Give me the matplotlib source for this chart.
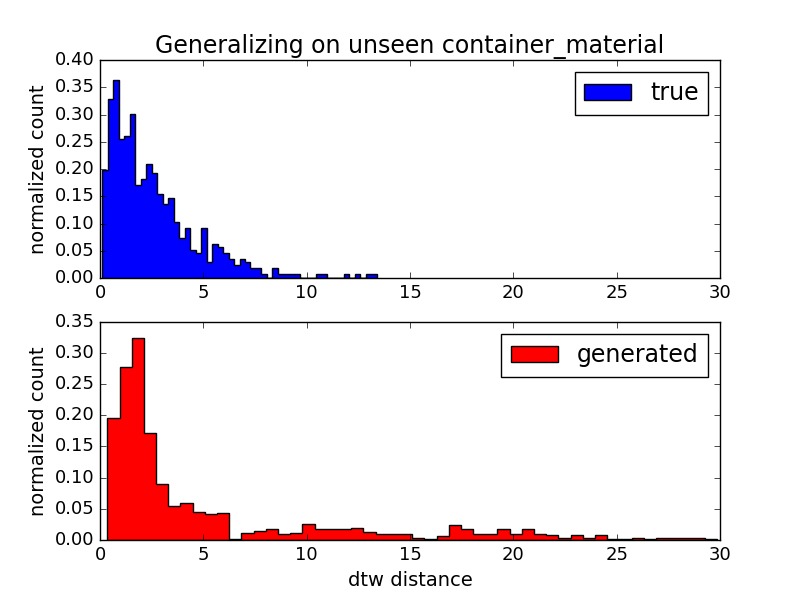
import matplotlib
matplotlib.use('Agg')
import matplotlib.pyplot as plt
import numpy as np

plt.style.use('classic')

# bin range and normalized counts (50 bins each)
true_range = (0.11, 13.39)
true_density = [0.199, 0.329, 0.364, 0.255, 0.261, 0.301, 0.170, 0.182, 0.210, 0.193,
                0.154, 0.136, 0.147, 0.103, 0.074, 0.092, 0.052, 0.047, 0.092, 0.029,
                0.063, 0.058, 0.047, 0.035, 0.024, 0.035, 0.029, 0.018, 0.018, 0.007,
                0.0, 0.018, 0.007, 0.007, 0.007, 0.007, 0.0, 0.0, 0.0, 0.007,
                0.007, 0.0, 0.0, 0.0, 0.007, 0.0, 0.007, 0.0, 0.007, 0.007]

gen_range = (0.355, 29.85)
gen_density = [0.195, 0.277, 0.324, 0.172, 0.090, 0.055, 0.059, 0.045, 0.041, 0.043,
               0.002, 0.011, 0.0145, 0.018, 0.009, 0.011, 0.025, 0.018, 0.018, 0.018,
               0.020, 0.013, 0.010, 0.009, 0.010, 0.004, 0.002, 0.007, 0.024, 0.018,
               0.010, 0.009, 0.017, 0.010, 0.018, 0.010, 0.008, 0.004, 0.008, 0.004,
               0.008, 0.001, 0.001, 0.004, 0.001, 0.004, 0.004, 0.003, 0.003, 0.001]

xticks = [0, 5, 10, 15, 20, 25, 30]

true_edges = np.linspace(true_range[0], true_range[1], len(true_density) + 1)
gen_edges = np.linspace(gen_range[0], gen_range[1], len(gen_density) + 1)

fig = plt.figure(figsize=(8, 6), dpi=100)

ax1 = fig.add_subplot(211)
ax1.hist(true_edges[:-1], bins=true_edges, weights=true_density, histtype='stepfilled',
         color='blue', edgecolor='black', label='true')
ax1.set_xlim(0, 30)
ax1.set_ylim(0, 0.40)
ax1.set_xticks(xticks)
ax1.set_yticks(np.arange(0, 0.41, 0.05))
ax1.yaxis.set_major_formatter(matplotlib.ticker.FormatStrFormatter('%.2f'))
ax1.set_ylabel('normalized count', fontsize=14)
ax1.set_title('Generalizing on unseen container_material', fontsize=17)
ax1.legend(loc='upper right', fontsize=17)
ax1.tick_params(labelsize=13)

ax2 = fig.add_subplot(212)
ax2.hist(gen_edges[:-1], bins=gen_edges, weights=gen_density, histtype='stepfilled',
         color='red', edgecolor='black', label='generated')
ax2.set_xlim(0, 30)
ax2.set_ylim(0, 0.35)
ax2.set_xticks(xticks)
ax2.set_yticks(np.arange(0, 0.36, 0.05))
ax2.yaxis.set_major_formatter(matplotlib.ticker.FormatStrFormatter('%.2f'))
ax2.set_ylabel('normalized count', fontsize=14)
ax2.set_xlabel('dtw distance', fontsize=14)
ax2.legend(loc='upper right', fontsize=17)
ax2.tick_params(labelsize=13)

fig.savefig('out.png', dpi=100)
